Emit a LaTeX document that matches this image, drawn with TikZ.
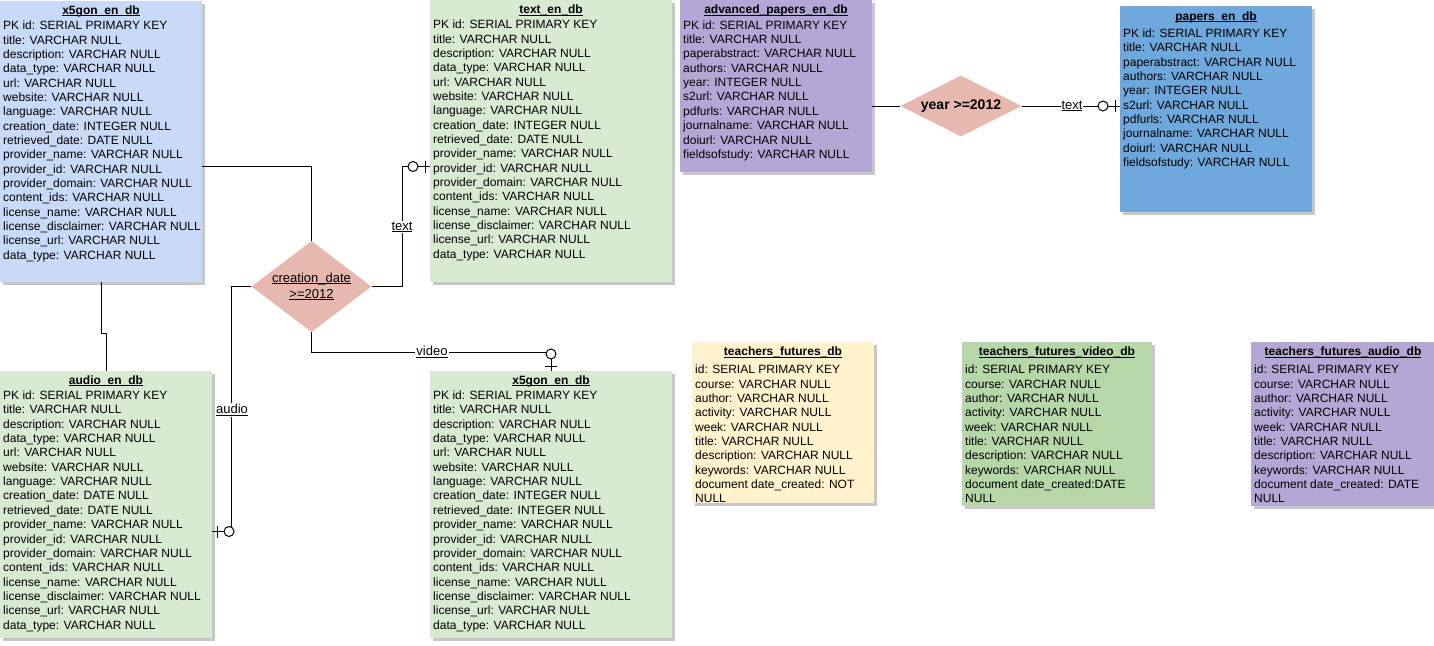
\documentclass[tikz,border=0pt]{standalone}
\usepackage{fontspec}
\setmainfont{Liberation Sans}
\usetikzlibrary{shapes.geometric,shadows,calc}
\definecolor{tblblue}{HTML}{C9DAF8}
\definecolor{tblgreen}{HTML}{D9EAD3}
\definecolor{tblpurple}{HTML}{B4A7D6}
\definecolor{tbldblue}{HTML}{6FA8DC}
\definecolor{tblyellow}{HTML}{FFF2CC}
\definecolor{tblmgreen}{HTML}{B6D7A8}
\definecolor{relfill}{HTML}{E6B8AF}
\newcommand\myul[1]{\leavevmode\setbox0\hbox{#1}\rlap{\rule[-2pt]{\wd0}{0.9pt}}\box0}
\newcommand\myxrowsA{PK id: SERIAL PRIMARY KEY\\title: VARCHAR NULL\\description: VARCHAR NULL\\data\_type: VARCHAR NULL\\url: VARCHAR NULL\\website: VARCHAR NULL\\language: VARCHAR NULL}
\newcommand\myxrowsB{provider\_name: VARCHAR NULL\\provider\_id: VARCHAR NULL\\provider\_domain: VARCHAR NULL\\content\_ids: VARCHAR NULL\\license\_name: VARCHAR NULL\\license\_disclaimer: VARCHAR NULL\\license\_url: VARCHAR NULL\\data\_type: VARCHAR NULL}
\newcommand\mypaperrows{PK id: SERIAL PRIMARY KEY\\title: VARCHAR NULL\\paperabstract: VARCHAR NULL\\authors: VARCHAR NULL\\year: INTEGER NULL\\s2url: VARCHAR NULL\\pdfurls: VARCHAR NULL\\journalname: VARCHAR NULL\\doiurl: VARCHAR NULL\\fieldsofstudy: VARCHAR NULL}
\newcommand\mytfrows{id: SERIAL PRIMARY KEY\\course: VARCHAR NULL\\author: VARCHAR NULL\\activity: VARCHAR NULL\\week: VARCHAR NULL\\title: VARCHAR NULL\\description: VARCHAR NULL\\keywords: VARCHAR NULL}
\newcommand\myfirst{\rule{0pt}{9pt}}
\begin{document}
\begin{tikzpicture}[x=1pt,y=-1pt,
  tbl/.style={draw=none, anchor=north west, inner sep=0pt, outer sep=0pt,
    drop shadow={shadow xshift=2.5pt, shadow yshift=-2.5pt, fill=black, opacity=0.22}},
  ttl/.style={font=\bfseries\fontsize{12}{14.4}\selectfont, anchor=base, inner sep=0pt},
  body/.style={font=\fontsize{12}{14.35}\selectfont, align=left, anchor=north west, inner sep=0pt},
  rel/.style={diamond, fill=relfill, draw=none, inner sep=0pt},
  conn/.style={draw=black, line width=1pt},
  lbl/.style={fill=white, inner sep=1pt, font=\fontsize{13}{15.6}\selectfont},
]
\fill[white] (0,0) rectangle (1434,645);
\useasboundingbox (0,0) rectangle (1434,645);

% ---- tables ----
\node[tbl, fill=tblblue, minimum width=202pt, minimum height=281pt] (x5top) at (0,1) {};
\node[ttl] (x5topt) at ($(x5top.north)+(0,13)$) {\myul{x5gon\_en\_db}};
\node[body] (x5topb) at ($(x5top.north west)+(3,19.5)$) {\myfirst\myxrowsA\\creation\_date: INTEGER NULL\\retrieved\_date: DATE NULL\\\myxrowsB};

\node[tbl, fill=tblgreen, minimum width=242pt, minimum height=282pt] (textdb) at (430,0) {};
\node[ttl] (textdbt) at ($(textdb.north)+(0,13.5)$) {\myul{text\_en\_db}};
\node[body] (textdbb) at ($(textdb.north west)+(3,19.5)$) {\myfirst\myxrowsA\\creation\_date: INTEGER NULL\\retrieved\_date: DATE NULL\\\myxrowsB};

\node[tbl, fill=tblpurple, minimum width=192pt, minimum height=172pt] (advp) at (680,0) {};
\node[ttl] (advpt) at ($(advp.north)+(0,13.5)$) {\myul{advanced\_papers\_en\_db}};
\node[body] (advpb) at ($(advp.north west)+(3,20)$) {\myfirst\mypaperrows};

\node[tbl, fill=tbldblue, minimum width=192pt, minimum height=206pt] (papers) at (1120,6) {};
\node[ttl] (paperst) at ($(papers.north)+(0,14)$) {\myul{papers\_en\_db}};
\node[body] (papersb) at ($(papers.north west)+(3,22.3)$) {\myfirst\mypaperrows};

\node[tbl, fill=tblgreen, minimum width=212pt, minimum height=267pt] (audio) at (0,371) {};
\node[ttl] (audiot) at ($(audio.north)+(0,13)$) {\myul{audio\_en\_db}};
\node[body] (audiob) at ($(audio.north west)+(3,19.3)$) {\myfirst\myxrowsA\\creation\_date: DATE NULL\\retrieved\_date: DATE NULL\\\myxrowsB};

\node[tbl, fill=tblgreen, minimum width=242pt, minimum height=267pt] (x5bot) at (430,371) {};
\node[ttl] (x5bott) at ($(x5bot.north)+(0,13)$) {\myul{x5gon\_en\_db}};
\node[body] (x5botb) at ($(x5bot.north west)+(3,19.3)$) {\myfirst\myxrowsA\\creation\_date: INTEGER NULL\\retrieved\_date: INTEGER NULL\\\myxrowsB};

\node[tbl, fill=tblyellow, minimum width=182pt, minimum height=161pt] (tf) at (692,342) {};
\node[ttl] (tft) at ($(tf.north)+(0,13.7)$) {\myul{teachers\_futures\_db}};
\node[body] (tfb) at ($(tf.north west)+(3,22.5)$) {\myfirst\mytfrows\\document date\_created: NOT\\NULL};

\node[tbl, fill=tblmgreen, minimum width=190pt, minimum height=164pt] (tfv) at (962,342) {};
\node[ttl] (tfvt) at ($(tfv.north)+(0,13.7)$) {\myul{teachers\_futures\_video\_db}};
\node[body] (tfvb) at ($(tfv.north west)+(3,22.5)$) {\myfirst\mytfrows\\document date\_created:DATE\\NULL};

\node[tbl, fill=tblpurple, minimum width=184pt, minimum height=164pt] (tfa) at (1251,342) {};
\node[ttl] (tfat) at ($(tfa.north)+(0,13.7)$) {\myul{teachers\_futures\_audio\_db}};
\node[body] (tfab) at ($(tfa.north west)+(3,22.5)$) {\myfirst\mytfrows\\document date\_created: DATE\\NULL};

% ---- relationships ----
\node[rel, minimum width=120pt, minimum height=91pt] (rel1) at (311.5,286.5) {};
\node[align=center, inner sep=0pt, font=\fontsize{13}{16}\selectfont] (rel1t) at (rel1.center) {\myul{creation\_date}\\\myul{>=2012}};
\node[rel, minimum width=121pt, minimum height=61pt] (rel2) at (961,106) {};
\node[inner sep=0pt, font=\bfseries\fontsize{14}{16.8}\selectfont] (rel2t) at (rel2.center) {year >=2012};

% ---- connectors ----
\coordinate (tin) at ($(textdb.north west)+(0,166.5)$);
\coordinate (vin) at ($(x5bot.north west)+(121,0)$);
\coordinate (ain) at ($(audio.north east)+(0,160.5)$);
\coordinate (pin) at (papers.west |- rel2.east);

\draw[conn] ($(x5top.north east)+(0,165.5)$) -| (rel1.north);
\draw[conn] (rel1.east) -| ($(tin)+(-28,0)$) -- (tin);
\draw[conn] (rel1.south) |- ($(vin)+(0,-19)$) -- (vin);
\draw[conn] (rel1.west) -| ($(ain)+(19.5,0)$) -- (ain);
\draw[conn] (x5top.south) -- ++(0,51) -| (audio.north);
\draw[conn] (advp.east |- rel2.west) -- (rel2.west);
\draw[conn] (rel2.east) -- (pin);

% zero-or-one markers
\draw[conn, fill=white] ($(tin)+(-17,0)$) circle[radius=5pt];
\draw[conn] ($(tin)+(-5,-6)$) -- ($(tin)+(-5,6)$);
\draw[conn, fill=white] ($(vin)+(0,-17)$) circle[radius=5pt];
\draw[conn] ($(vin)+(-6,-5)$) -- ($(vin)+(6,-5)$);
\draw[conn, fill=white] ($(ain)+(17,0)$) circle[radius=5pt];
\draw[conn] ($(ain)+(5,-6)$) -- ($(ain)+(5,6)$);
\draw[conn, fill=white] ($(pin)+(-17,0)$) circle[radius=5pt];
\draw[conn] ($(pin)+(-5,-6)$) -- ($(pin)+(-5,6)$);

% labels
\node[lbl] (l1) at (402,227) {\myul{text}};
\node[lbl] (l2) at (432,352) {\myul{video}};
\node[lbl] (l3) at (232,410) {\myul{audio}};
\node[lbl] (l4) at (1072,106) {\myul{text}};
\end{tikzpicture}
\end{document}
